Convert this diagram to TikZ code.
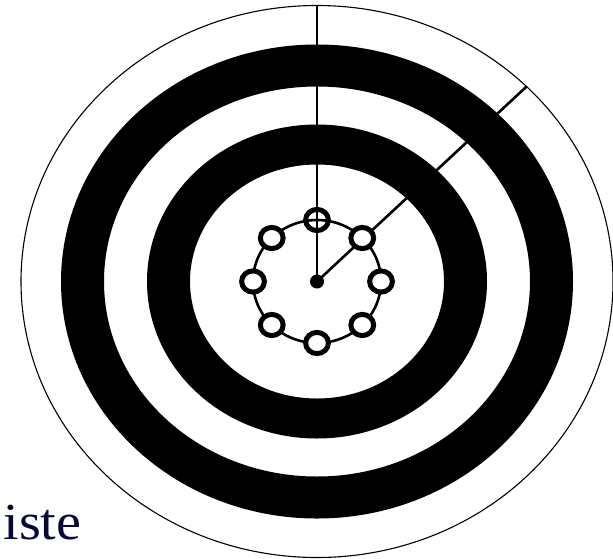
\documentclass[tikz,border=0pt]{standalone}
\usepackage{fontspec}
\setmainfont{Liberation Serif}
\usetikzlibrary{calc}
\definecolor{navy}{RGB}{8,8,56}
\tikzset{
  thinring/.style={line width=1.1pt},
  band/.style={fill=black, even odd rule, draw=none},
  spoke/.style={line width=2.6pt},
  ringline/.style={line width=2.6pt},
  station/.style={line width=5pt},
  label/.style={text=navy, inner sep=0pt, font=\fontsize{52}{58}\selectfont}
}
\begin{document}
\begin{tikzpicture}[x=1pt,y=-1pt]
\useasboundingbox (0,0) rectangle (613,558);
\coordinate (C) at (317,281.5);
% outer thin circle
\draw[thinring] (C) ellipse [x radius=296pt, y radius=276pt];
% black bands
\fill[band] (C) ellipse [x radius=256pt, y radius=237pt] (C) ellipse [x radius=213pt, y radius=195pt];
\fill[band] (C) ellipse [x radius=170pt, y radius=157pt] (C) ellipse [x radius=127pt, y radius=117pt];
% spokes
\coordinate (top) at (317,5.5);
\coordinate (diag) at (526.8,86.3);
\draw[spoke] (C) -- (top);
\draw[spoke] (C) -- (diag);
% ring of stations
\draw[ringline] (C) ellipse [x radius=64pt, y radius=61.5pt];
\foreach \a in {45,0,-45,-90,-135,180,135} {
  \draw[station, fill=white] ($(C)+({64*cos(\a)},{-61.5*sin(\a)})$) ellipse [x radius=11.4pt, y radius=10.6pt];
}
\draw[station] ($(C)+(0,-61.5)$) ellipse [x radius=11.4pt, y radius=10.6pt];
\fill (C) circle [radius=7pt];
% text
\node[label, anchor=base east, xscale=1.08] (txt) at (81.7,539.3) {iste};
\end{tikzpicture}
\end{document}
